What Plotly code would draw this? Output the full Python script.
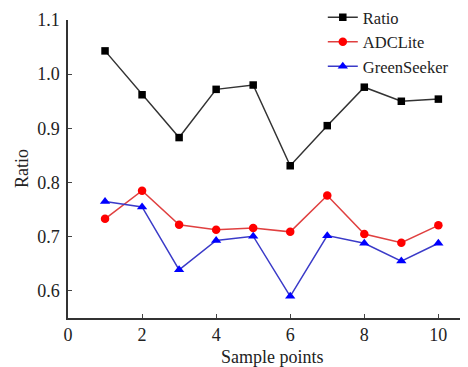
import plotly.graph_objects as go

sample_points = [1, 2, 3, 4, 5, 6, 7, 8, 9, 10]
ratio = [1.043, 0.962, 0.883, 0.972, 0.980, 0.831, 0.905, 0.976, 0.950, 0.954]
adclite = [0.733, 0.785, 0.722, 0.713, 0.716, 0.709, 0.776, 0.705, 0.689, 0.721]
greenseeker = [0.765, 0.755, 0.639, 0.693, 0.701, 0.590, 0.702, 0.688, 0.655, 0.688]
x_ticks = [0, 2, 4, 6, 8, 10]
y_ticks = [0.6, 0.7, 0.8, 0.9, 1.0, 1.1]
y_tick_labels = ["0.6", "0.7", "0.8", "0.9", "1.0", "1.1"]
x_title = "Sample points"
y_title = "Ratio"

font = "Liberation Serif"
fig = go.Figure()
fig.add_trace(go.Scatter(x=sample_points, y=ratio, name="Ratio", mode="lines+markers",
                         line=dict(color="#333333", width=1.5),
                         marker=dict(symbol="square", size=7.5, color="#000000")))
fig.add_trace(go.Scatter(x=sample_points, y=adclite, name="ADCLite", mode="lines+markers",
                         line=dict(color="#e04040", width=1.5),
                         marker=dict(symbol="circle", size=8.5, color="#ff0000")))
fig.add_trace(go.Scatter(x=sample_points, y=greenseeker, name="GreenSeeker", mode="lines+markers",
                         line=dict(color="#3a3ac8", width=1.5),
                         marker=dict(symbol="triangle-up", size=9, color="#0000ff")))

# The page body keeps the browser's 8px default margin, so the figure is made
# 8px smaller and its margins are reduced by 8px to keep the plot area in place.
fig.update_layout(
    width=460, height=359,
    margin=dict(l=60, r=0, t=12, b=49, autoexpand=False),
    paper_bgcolor="white", plot_bgcolor="white",
    font=dict(family=font, size=18, color="#222222"),
    showlegend=True,
    legend=dict(x=0.637, y=1.067, xanchor="left", yanchor="top",
                bgcolor="rgba(0,0,0,0)", font=dict(family=font, size=16.5),
                tracegroupgap=0),
    xaxis=dict(range=[0, 10.8], tickvals=x_ticks, ticks="inside", ticklen=4,
               showline=True, linecolor="#333333", linewidth=1.5, showgrid=False,
               zeroline=False),
    yaxis=dict(range=[0.55, 1.1], tickvals=y_ticks, ticktext=y_tick_labels,
               ticks="inside", ticklen=4, ticklabelstandoff=3,
               showline=True, linecolor="#333333", linewidth=1.5, showgrid=False,
               zeroline=False),
    annotations=[
        dict(text=x_title, xref="paper", yref="paper", x=0.51, y=-0.131,
             xanchor="center", yanchor="middle", showarrow=False,
             font=dict(family=font, size=18, color="#222222")),
        dict(text=y_title, xref="paper", yref="paper", x=-0.115, y=0.5,
             xanchor="center", yanchor="middle", textangle=-90, showarrow=False,
             font=dict(family=font, size=18, color="#222222")),
    ],
)
fig.write_html("out.html")
